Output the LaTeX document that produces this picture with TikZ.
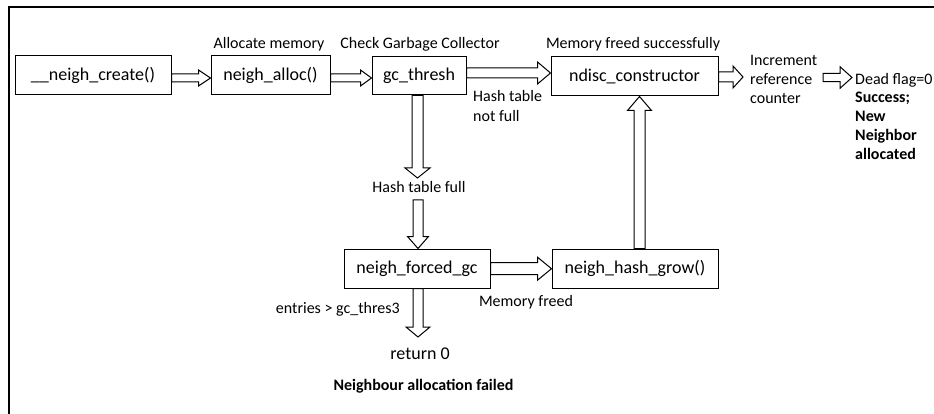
\documentclass[tikz,border=0pt]{standalone}
\usepackage{fontspec}
\setmainfont{Carlito}
\usetikzlibrary{calc}
\newcommand\topst{\rule{0pt}{11pt}}
\newcommand\botst{\rule[-4pt]{0pt}{4pt}}
\tikzset{
  box/.style={draw, line width=1pt, inner sep=0pt, font=\fontsize{18}{22}\selectfont},
  lbl/.style={inner sep=0pt, font=\fontsize{16}{18.75}\selectfont, text height=11pt, text depth=4pt},
  mlbl/.style={inner sep=0pt, align=left, anchor=west, font=\fontsize{16}{18.75}\selectfont},
  big/.style={inner sep=0pt, font=\fontsize{18}{22}\selectfont, text height=12.5pt, text depth=4.5pt},
  arr/.style={draw, line width=1pt, fill=white, line join=miter},
}
\newcommand\blockarrow[5]{%
  \coordinate (ba-h) at ($(#2)!#5!(#1)$);
  \draw[arr] ($(#1)!#3!90:(#2)$) -- ($(ba-h)!#3!90:(#2)$) -- ($(ba-h)!#4!90:(#2)$)
    -- (#2) -- ($(ba-h)!#4!-90:(#2)$) -- ($(ba-h)!#3!-90:(#2)$) -- ($(#1)!#3!-90:(#2)$) -- cycle;}
\begin{document}
\begin{tikzpicture}[x=1pt,y=-1pt]
\useasboundingbox (0,0) rectangle (934,414);
% frame
\draw[line width=1.6pt] (9,420) -- (9,7) -- (940,7);
% boxes
\node[box, minimum width=156pt, minimum height=39pt] (create) at (93,75.5) {\_\_neigh\_create()};
\node[box, minimum width=119pt, minimum height=39pt] (alloc) at (270.5,75.5) {neigh\_alloc()};
\node[box, minimum width=94pt, minimum height=38pt] (thresh) at (419,76) {gc\_thresh};
\node[box, minimum width=167pt, minimum height=39pt] (ndisc) at (634.5,76.5) {ndisc\_constructor};
\node[box, minimum width=146pt, minimum height=39pt] (forced) at (417,268.5) {neigh\_forced\_gc};
\node[box, minimum width=166pt, minimum height=39pt] (grow) at (635,268.5) {neigh\_hash\_grow()};
% labels
\node[lbl] (lalloc) at (269,45) {Allocate memory};
\node[lbl] (lgc) at (420,45) {Check Garbage Collector};
\node[lbl] (lfreed) at (633,45) {Memory freed successfully};
\node[mlbl, font=\fontsize{16}{20}\selectfont] (lnotfull) at (473,108) {\topst Hash table\\not full\botst};
\node[mlbl] (lincr) at (750,81) {\topst Increment\\reference\\counter\botst};
\node[mlbl] (ldead) at (855,118) {\topst Dead flag=0\\\textbf{Success;}\\\textbf{New}\\\textbf{Neighbor}\\\textbf{allocated}\botst};
\node[lbl] (lfull) at (419,189) {Hash table full};
\node[lbl] (lmem) at (526,303) {Memory freed};
\node[lbl, anchor=east] (lentries) at (400,310) {entries > gc\_thres3};
\node[big] (ret) at (420,355) {return 0};
\node[lbl, font=\fontsize{16}{18.75}\selectfont\bfseries] (lfail) at (423.5,387) {Neighbour allocation failed};
% helper coordinates
\coordinate (yA) at (0,78);
\coordinate (yB) at (0,73);
\coordinate (yC) at (0,77);
\coordinate (yD) at (0,268.7);
\coordinate (xV1) at (417.5,0);
\coordinate (xV4) at (639.5,0);
\coordinate (v1e) at (417.5,178);
\coordinate (v2s) at (418,200);
\coordinate (v3e) at (418,337);
\coordinate (a4e) at (743,77);
\coordinate (a5s) at (823,77.5);
\coordinate (a5e) at (852,77.5);
% arrows
\blockarrow{create.east |- yA}{alloc.west |- yA}{4pt}{8pt}{12pt}
\blockarrow{alloc.east |- yA}{thresh.west |- yA}{4pt}{8pt}{11pt}
\blockarrow{thresh.east |- yB}{ndisc.west |- yB}{5pt}{11pt}{13pt}
\blockarrow{ndisc.east |- yC}{a4e}{5pt}{11pt}{10pt}
\blockarrow{a5s}{a5e}{4.2pt}{10.8pt}{12pt}
\blockarrow{thresh.south -| xV1}{v1e}{5.5pt}{12.5pt}{10pt}
\blockarrow{v2s}{forced.north -| v2s}{5pt}{10.5pt}{12pt}
\blockarrow{forced.south -| v3e}{v3e}{5pt}{12pt}{10pt}
\blockarrow{grow.north -| xV4}{ndisc.south -| xV4}{5.5pt}{12pt}{14pt}
\blockarrow{forced.east |- yD}{grow.west |- yD}{6pt}{11.5pt}{14pt}
\end{tikzpicture}
\end{document}
